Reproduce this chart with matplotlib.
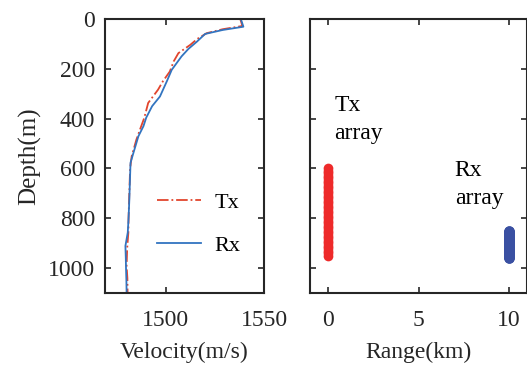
import numpy as np
import matplotlib.pyplot as plt

plt.rcParams['font.family'] = ['Liberation Serif', 'DejaVu Serif']

# sound speed profiles (depth m, velocity m/s)
tx_depth = [0, 28, 41, 57, 80, 104, 137, 170, 211, 250, 284, 337, 397, 440, 484, 551, 600, 697, 800, 857, 920, 991, 1040, 1096]
tx_vel = [1537.9, 1539.0, 1529.0, 1520.8, 1516.0, 1512.4, 1506.4, 1504.0, 1502.0, 1498.5, 1496.0, 1491.0, 1489.0, 1487.0, 1485.0, 1482.6, 1481.8, 1481.4, 1481.0, 1480.9, 1480.3, 1480.0, 1480.4, 1480.5]
rx_depth = [0, 31, 44, 60, 91, 120, 150, 204, 250, 311, 350, 396, 430, 471, 537, 577, 650, 724, 800, 857, 911, 960, 1000, 1050, 1096]
rx_vel = [1538.2, 1539.5, 1529.0, 1520.0, 1515.8, 1511.5, 1508.0, 1503.0, 1500.5, 1497.0, 1493.0, 1490.0, 1488.6, 1486.0, 1483.5, 1482.0, 1481.7, 1481.4, 1481.0, 1480.6, 1479.4, 1479.6, 1479.7, 1479.9, 1480.0]

# array element positions
tx_range = 0.0
tx_elem_depth = np.arange(600, 951, 10)
rx_range = 10.0
rx_elem_depth = np.arange(850, 961, 2)

fig = plt.figure(figsize=(5.27, 3.73), dpi=100)
ax1 = fig.add_axes([105/527, 80/373, 159/527, 274/373])
ax2 = fig.add_axes([310/527, 80/373, 217/527, 274/373])

ax1.plot(tx_vel, tx_depth, '-.', color='#e2452d', lw=1.3, label='Tx')
ax1.plot(rx_vel, rx_depth, '-', color='#3274c0', lw=1.3, label='Rx')
ax1.set_xlim(1469, 1550)
ax1.set_ylim(1100, 0)
ax1.set_xticks([1500, 1550])
ax1.set_yticks([0, 200, 400, 600, 800, 1000])
ax1.set_xlabel('Velocity(m/s)', fontsize=17, color='#262626', labelpad=8)
ax1.set_ylabel('Depth(m)', fontsize=18, color='#262626', labelpad=5)
ax1.legend(loc='lower right', bbox_to_anchor=(0.98, 0.062), frameon=False, fontsize=16,
           handlelength=2.0, labelspacing=1.0, handletextpad=0.6)

ax2.plot(np.full(len(tx_elem_depth), tx_range), tx_elem_depth, 'o', color='#ee2a2a', ms=7, mec='none')
ax2.plot(np.full(len(rx_elem_depth), rx_range), rx_elem_depth, 'o', color='#3a50a2', ms=7.5, mec='none')
ax2.set_xlim(-1, 11)
ax2.set_ylim(1100, 0)
ax2.set_xticks([0, 5, 10])
ax2.set_yticks([0, 200, 400, 600, 800, 1000])
ax2.set_yticklabels([])
ax2.set_xlabel('Range(km)', fontsize=17, color='#262626', labelpad=8)
ax2.text(0.35, 305, 'Tx\narray', fontsize=17, va='top', ha='left', linespacing=1.45)
ax2.text(7.0, 565, 'Rx\narray', fontsize=17, va='top', ha='left', linespacing=1.45)

for ax in (ax1, ax2):
    ax.tick_params(direction='in', top=True, right=True, labelsize=17, colors='#262626', length=4, width=1.2)
    ax.tick_params(axis='x', pad=12)
    ax.tick_params(axis='y', pad=7)
    for s in ax.spines.values():
        s.set_linewidth(1.5)
        s.set_color('#262626')

fig.savefig('out.png', dpi=100)
